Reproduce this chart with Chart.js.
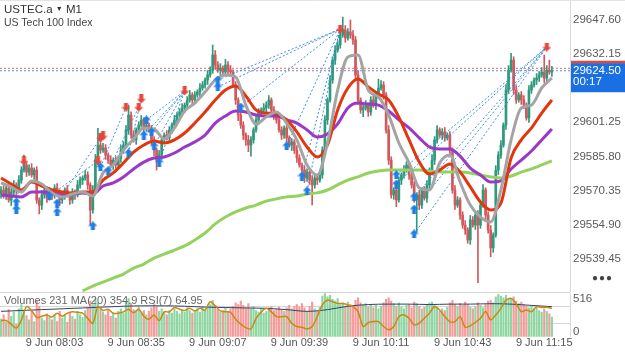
<!DOCTYPE html>
<html>
<head>
<meta charset="utf-8">
<script src="https://cdn.jsdelivr.net/npm/chart.js@4.4.0/dist/chart.umd.min.js"></script>
<style>
  html, body { margin: 0; padding: 0; background: #fff; }
  body { width: 625px; height: 352px; position: relative; overflow: hidden; font-family: "Liberation Sans", Arial, sans-serif; }
  #main { position: absolute; left: 0; top: 0; }
  #sub { position: absolute; left: 0; top: 292px; }
  .txt { position: absolute; left: 4px; white-space: nowrap; line-height: 1; }
</style>
</head>
<body>
<canvas id="main" width="625" height="292"></canvas>
<canvas id="sub" width="625" height="58"></canvas>
<div class="txt" style="top:4px;font-size:11.5px;color:#333">USTEC.a <span style="font-size:7px;vertical-align:2px">&#9660;</span> M1</div>
<div class="txt" style="top:17px;font-size:10.5px;color:#444">US Tech 100 Index</div>
<div class="txt" style="top:295px;font-size:11px;color:#666">Volumes 231 MA(20) 354.9 RSI(7) 64.95</div>
<div class="txt" style="left:592px;top:273px;font-size:10px;color:#444;letter-spacing:1px">&#9679;&#9679;&#9679;</div>
<script>
// one-minute bars, 9 Jun 07:42 .. 11:18
const firstOpen = 29569.0;
const closes = [
  29570.7, 29568.5, 29571.6, 29566.2, 29569.8, 29573.0, 29570.7, 29575.2, 29579.7, 29582.0,
  29578.8, 29580.6, 29577.5, 29579.7, 29566.2, 29563.9, 29568.5, 29570.7, 29567.1, 29569.8,
  29568.5, 29571.6, 29569.8, 29566.2, 29568.5, 29570.7, 29568.5, 29566.2, 29569.8, 29568.5,
  29573.0, 29575.2, 29576.1, 29577.5, 29573.0, 29561.7, 29570.7, 29584.2, 29591.0, 29588.7,
  29589.7, 29586.5, 29584.2, 29582.0, 29584.2, 29582.0, 29585.1, 29588.7, 29591.0, 29597.8,
  29604.5, 29595.5, 29593.3, 29597.8, 29600.0, 29602.3, 29598.7, 29600.0, 29597.8, 29593.3,
  29588.7, 29584.2, 29586.5, 29593.3, 29595.5, 29594.2, 29597.8, 29600.0, 29602.3, 29604.5,
  29605.9, 29607.7, 29609.0, 29611.3, 29613.6, 29611.3, 29613.6, 29614.9, 29616.7, 29618.1,
  29620.3, 29622.6, 29624.8, 29631.6, 29627.1, 29624.8, 29625.7, 29623.9, 29627.1, 29624.8,
  29623.9, 29618.1, 29611.3, 29604.5, 29600.0, 29595.5, 29593.3, 29591.0, 29593.3, 29597.8,
  29602.3, 29605.9, 29606.8, 29607.7, 29609.0, 29611.3, 29606.8, 29604.5, 29602.3, 29597.8,
  29595.5, 29598.7, 29594.2, 29591.0, 29592.4, 29588.7, 29585.1, 29582.0, 29579.7, 29576.1,
  29578.8, 29575.2, 29573.0, 29576.1, 29575.2, 29577.5, 29588.7, 29602.3, 29611.3, 29620.3,
  29629.3, 29633.8, 29636.1, 29640.6, 29642.9, 29639.3, 29642.0, 29640.6, 29638.4, 29622.6,
  29611.3, 29606.8, 29607.7, 29609.0, 29605.9, 29611.3, 29609.0, 29613.6, 29616.7, 29618.1,
  29613.6, 29597.8, 29584.2, 29568.5, 29570.7, 29566.2, 29575.2, 29577.5, 29579.7, 29582.0,
  29577.5, 29573.0, 29566.2, 29568.5, 29563.9, 29570.7, 29567.1, 29573.0, 29579.7, 29584.2,
  29593.3, 29597.8, 29595.5, 29596.9, 29594.2, 29595.5, 29588.7, 29570.7, 29563.9, 29566.2,
  29559.4, 29554.9, 29552.7, 29548.2, 29557.2, 29554.9, 29559.4, 29554.9, 29563.9, 29570.7,
  29559.4, 29552.7, 29544.6, 29550.4, 29579.7, 29586.5, 29591.0, 29600.0, 29615.8, 29624.8,
  29629.3, 29615.8, 29611.3, 29613.6, 29611.3, 29609.0, 29603.2, 29615.8, 29618.1, 29620.3,
  29621.2, 29622.6, 29623.9, 29621.2, 29624.8, 29623.9, 29624.5
];
// wick length above / below the body, in index points
const upperWick = [
  1.5, 2, 1, 2.5, 1.5, 2, 1, 2, 1.5, 4.5, 1, 1.5, 2, 1, 1.5, 1, 2, 1, 1.5, 2,
  1, 1.5, 2, 1, 1.5, 1, 2, 1, 1.5, 1, 2, 1.5, 1, 2, 1.5, 1, 2, 2.5, 7.5, 1.5,
  2, 1.5, 1, 2, 1, 1.5, 1, 2, 1.5, 2, 4.5, 1.5, 2, 1, 1.5, 2, 1, 1.5, 1, 2,
  1.5, 1, 2, 1.5, 1, 2, 1.5, 1, 2, 1, 1.5, 2, 1, 1.5, 2, 1, 1.5, 1, 2, 1.5,
  1, 2, 1.5, 4.5, 2, 1.5, 2, 1, 2.5, 1.5, 2, 1, 1.5, 1, 2, 1.5, 1, 2, 1.5, 1,
  2, 1.5, 1, 2, 1.5, 2, 1, 1.5, 1, 2, 1.5, 1, 2, 1, 1.5, 1, 2, 1.5, 1, 2,
  1.5, 1, 2, 1.5, 1, 2, 1.5, 2, 1, 2, 1.5, 2, 1.5, 2.5, 5.8, 2, 1.5, 5.4, 2, 1.5,
  2, 1, 1.5, 2, 1, 1.5, 2, 1.5, 4, 2, 1.5, 1, 2, 1.5, 1, 2, 1.5, 1, 2, 1.5,
  1, 2, 1.5, 1, 2, 1, 1.5, 2, 1, 2.5, 1.5, 2, 1, 1.5, 2, 1, 1.5, 1, 2, 1.5,
  1, 1.5, 2, 1, 2, 1.5, 1, 2, 1.5, 2.5, 1, 1.5, 2, 1, 2, 1.5, 2, 1, 2.5, 2,
  3, 1.5, 2, 1, 1.5, 2, 1, 2, 1.5, 1, 2, 1.5, 2, 7.7, 2, 4.5, 2
];
const lowerWick = [
  2, 1.5, 2, 1, 2.5, 1.5, 2, 1, 1.5, 1, 2, 1.5, 1, 2, 1.5, 4, 2, 1.5, 2, 1,
  2, 1.5, 1, 2.5, 1.5, 2, 1, 2, 1.5, 2, 1, 1.5, 2, 1, 2, 6.8, 1.5, 1, 2, 1.5,
  1, 2, 1.5, 1, 2, 1.5, 1, 2, 1.5, 1, 2, 1.5, 1, 2, 1.5, 1, 2, 1.5, 1, 2,
  2.5, 4.5, 1, 2, 1.5, 1, 2, 1.5, 1, 2, 1.5, 1, 2, 1.5, 1, 2, 1.5, 1, 2, 1,
  1.5, 2, 1, 1.5, 2, 1, 2, 1.5, 1, 2, 1.5, 1, 2, 2.5, 1.5, 2, 2.5, 3, 5, 1.5,
  1, 2, 1.5, 1, 2, 1.5, 1, 2, 1.5, 1, 2, 1.5, 2, 1, 2.5, 1.5, 2, 1, 2.5, 2,
  1.5, 2, 9, 1.5, 2, 1, 1.5, 1, 2, 1, 1.5, 2, 1, 1.5, 1, 2, 1, 1.5, 2, 1.5,
  2, 1.5, 3, 1, 2, 1.5, 1, 2, 1.5, 1, 2, 1.5, 2, 1.5, 2, 3, 1, 2, 1.5, 1,
  2, 1.5, 1, 14.4, 2, 1.5, 1, 2, 1.5, 1, 2, 1.5, 1, 2, 1.5, 1, 2, 1.5, 2, 1,
  2, 1.5, 2, 1.5, 2, 1, 2, 26, 1.5, 1, 2, 1.5, 4, 2, 1, 2, 1.5, 1, 2, 1.5,
  1, 2, 1.5, 1, 2, 1.5, 1, 2, 1.5, 1, 2, 1.5, 1, 2, 1.5, 1, 2
];
const volumes = [
  210, 260, 180, 320, 240, 290, 150, 330, 380, 300, 250, 200, 310, 180, 420, 360, 220, 190, 270, 230,
  200, 260, 180, 300, 220, 250, 170, 280, 240, 210, 300, 260, 230, 310, 340, 420, 380, 450, 400, 330,
  290, 260, 310, 240, 280, 220, 300, 330, 280, 410, 450, 390, 320, 300, 350, 280, 310, 260, 300, 340,
  380, 350, 300, 330, 290, 260, 310, 280, 330, 300, 270, 320, 290, 340, 310, 280, 300, 330, 290, 350,
  310, 360, 380, 430, 370, 320, 290, 310, 340, 300, 330, 360, 400, 380, 420, 370, 340, 390, 330, 360,
  310, 290, 330, 280, 300, 340, 360, 310, 330, 350, 320, 300, 340, 370, 330, 360, 380, 350, 390, 340,
  300, 360, 410, 330, 300, 350, 480, 510, 470, 490, 440, 420, 450, 380, 400, 360, 410, 380, 350, 430,
  460, 400, 370, 390, 350, 380, 340, 370, 330, 360, 400, 440, 460, 420, 390, 360, 400, 350, 330, 370,
  380, 340, 410, 390, 360, 330, 350, 380, 400, 410, 370, 340, 300, 330, 310, 350, 400, 430, 380, 360,
  390, 370, 410, 380, 350, 330, 360, 400, 370, 340, 380, 420, 430, 400, 470, 500, 480, 460, 490, 440,
  450, 470, 420, 390, 410, 380, 360, 340, 370, 330, 350, 310, 290, 330, 300, 270, 231
];

// moving averages, read every 4th bar (green starts at bar 32)
const maStep = 4;
const grayMA = [
  29573.9, 29572.1, 29569.8, 29574.8, 29573.4, 29569.4, 29567.6, 29568.9, 29569.8, 29568.0,
  29578.4, 29582.0, 29588.7, 29593.7, 29598.7, 29598.2, 29593.7, 29598.7, 29606.3, 29609.9,
  29614.9, 29620.3, 29622.6, 29621.7, 29609.0, 29600.5, 29603.6, 29605.9, 29600.9, 29593.3,
  29582.0, 29577.5, 29591.9, 29615.8, 29630.7, 29631.6, 29615.8, 29612.7, 29604.5, 29591.9,
  29582.9, 29571.6, 29570.7, 29582.9, 29586.5, 29574.3, 29563.9, 29558.5, 29556.3, 29570.7,
  29593.3, 29607.7, 29609.0, 29616.7, 29621.2
];
const redMA = [
  29576.1, 29573.4, 29570.7, 29574.3, 29572.5, 29570.7, 29569.8, 29569.4, 29569.8, 29569.8,
  29575.2, 29578.4, 29582.9, 29587.8, 29591.0, 29592.8, 29591.9, 29593.3, 29596.4, 29600.9,
  29605.9, 29611.3, 29615.8, 29617.6, 29613.1, 29606.8, 29605.4, 29605.0, 29602.3, 29596.9,
  29590.1, 29585.6, 29591.0, 29606.8, 29616.7, 29620.8, 29617.2, 29614.0, 29611.3, 29603.6,
  29593.3, 29583.3, 29577.9, 29579.7, 29582.4, 29578.8, 29572.1, 29565.3, 29561.7, 29564.8,
  29585.1, 29593.3, 29598.7, 29605.4, 29611.3
];
const purpleMA = [
  29568.5, 29568.0, 29567.6, 29569.8, 29569.8, 29569.4, 29568.5, 29568.9, 29569.4, 29568.9,
  29572.5, 29573.9, 29576.6, 29580.2, 29583.3, 29585.1, 29585.6, 29587.4, 29590.1, 29592.4,
  29595.5, 29600.9, 29604.1, 29606.3, 29605.9, 29604.5, 29604.1, 29604.1, 29602.3, 29600.9,
  29597.8, 29594.6, 29596.0, 29600.5, 29607.7, 29609.9, 29609.5, 29609.0, 29606.3, 29602.3,
  29598.7, 29594.2, 29590.1, 29589.2, 29589.2, 29586.0, 29580.6, 29577.5, 29574.3, 29574.8,
  29580.2, 29584.2, 29588.3, 29593.3, 29598.2
];
const greenStart = 32;
const greenMA = [
  29525.2, 29527.4, 29529.2, 29531.0, 29532.8, 29535.5, 29537.3, 29540.0, 29541.8, 29543.6,
  29545.5, 29548.2, 29551.3, 29555.4, 29558.5, 29560.8, 29562.6, 29563.9, 29565.7, 29566.7,
  29567.6, 29568.0, 29568.9, 29569.4, 29570.7, 29573.0, 29575.2, 29576.6, 29578.4, 29579.3,
  29579.7, 29579.7, 29579.7, 29579.7, 29579.3, 29578.8, 29578.8, 29578.8, 29578.4, 29577.5,
  29576.6, 29576.1, 29577.0, 29578.8, 29580.2, 29582.0, 29583.8
];
// volume MA(20) every 8th bar, RSI(7) every 2nd bar
const volMAStep = 8;
const volumeMA = [300, 310, 320, 330, 340, 350, 360, 365, 365, 360, 350, 345, 340, 335,
                  320, 300, 320, 360, 380, 385, 385, 380, 385, 385, 390, 385, 370, 355];
const rsiStep = 2;
const rsi = [
  37, 37.5, 28.5, 20, 38, 69, 60, 44, 47, 50,
  45, 54, 47, 54, 57, 56, 54, 42, 31, 69,
  60, 63, 54, 54, 57, 63, 55, 63, 47, 40,
  50, 37, 57, 57, 67, 63, 60, 65, 59, 65,
  61, 80, 71, 59, 57, 56, 40, 29, 21, 18,
  42, 56, 65, 57, 46, 46, 46, 31, 23.5, 22,
  18, 23.5, 46, 72.7, 84, 80, 76, 76, 72.7, 69,
  57.5, 23.5, 32.5, 34.8, 34.8, 23.5, 16, 23.5, 46, 50,
  42.4, 27, 31, 42.4, 54, 69, 61, 46, 34.8, 34.8,
  46, 22, 25, 33, 42.4, 57.5, 38.6, 50, 65, 84,
  87.8, 75, 57.5, 61, 57.5, 69, 67, 67.5, 64.95
];

const priceTicks = [29539.45, 29554.90, 29570.35, 29585.80, 29601.25, 29616.70, 29632.15, 29647.60];
const timeTickBars = [21, 53, 85, 117, 149, 181, 213];
const timeTickLabels = ['9 Jun 08:03', '9 Jun 08:35', '9 Jun 09:07', '9 Jun 09:39', '9 Jun 10:11', '9 Jun 10:43', '9 Jun 11:15'];
const volumeTicks = [0, 516];
const rsiLevels = [30, 70];
const bid = 29624.50, ask = 29625.60;
const timer = '00:17';

// [bar, price]
const buySignals = [
  [6, 29565.3], [6, 29562.1], [19, 29568.0], [22, 29564.8], [22, 29560.8], [36, 29554.5],
  [39, 29581.1], [42, 29579.3], [50, 29587.4], [56, 29595.5], [57, 29602.3], [59, 29596.9],
  [60, 29590.6], [62, 29583.3], [85, 29620.3], [85, 29617.2], [94, 29608.1], [112, 29590.6],
  [118, 29577.0], [120, 29570.3], [155, 29577.5], [155, 29573.4], [162, 29567.6], [162, 29562.1],
  [162, 29550.9]
];
const sellSignals = [
  [9, 29583.8], [38, 29583.8], [39, 29594.2], [40, 29595.1], [49, 29608.1], [54, 29608.1],
  [55, 29611.8], [72, 29615.4], [133, 29643.3], [214, 29635.2]
];
// [buy bar, buy price, sell bar, sell price]
const trades = [
  [6, 29565.3, 9, 29583.8], [19, 29568.0, 38, 29583.8], [22, 29564.8, 39, 29594.2],
  [39, 29581.1, 49, 29608.1], [42, 29579.3, 54, 29608.1], [50, 29587.4, 55, 29611.8],
  [56, 29595.5, 72, 29615.4], [57, 29602.3, 72, 29615.4], [59, 29596.9, 72, 29615.4],
  [60, 29590.6, 72, 29615.4], [62, 29583.3, 72, 29615.4],
  [85, 29620.3, 133, 29643.3], [85, 29617.2, 133, 29643.3], [94, 29608.1, 133, 29643.3],
  [112, 29590.6, 133, 29643.3], [118, 29577.0, 133, 29643.3], [120, 29570.3, 133, 29643.3],
  [155, 29577.5, 214, 29635.2], [155, 29573.4, 214, 29635.2], [162, 29567.6, 214, 29635.2],
  [162, 29562.1, 214, 29635.2], [162, 29550.9, 214, 29635.2]
];

const UP = '#2e9a7b', DOWN = '#d2585c';
const VOL_UP = '#8fd6a2', VOL_DOWN = '#f39c9a';
const FONT = '"Liberation Sans", Arial, sans-serif';
const xMin = -0.4, xMax = 223.1;

const opens = closes.map((c, i) => i === 0 ? firstOpen : closes[i - 1]);
const highs = closes.map((c, i) => Math.max(opens[i], c) + (upperWick[i] || 1));
const lows = closes.map((c, i) => Math.min(opens[i], c) - (lowerWick[i] || 1));
const rising = closes.map((c, i) => c >= opens[i]);

function sampled(values, step, start) {
  return values.map((v, k) => ({ x: (start || 0) + k * step, y: v }));
}

function arrow(color, up) {
  const c = document.createElement('canvas');
  c.width = 9; c.height = 9;
  const g = c.getContext('2d');
  g.fillStyle = color;
  g.beginPath();
  if (up) {
    g.moveTo(4.5, 0); g.lineTo(9, 4.5); g.lineTo(6.5, 4.5); g.lineTo(6.5, 9);
    g.lineTo(2.5, 9); g.lineTo(2.5, 4.5); g.lineTo(0, 4.5);
  } else {
    g.moveTo(4.5, 9); g.lineTo(9, 4.5); g.lineTo(6.5, 4.5); g.lineTo(6.5, 0);
    g.lineTo(2.5, 0); g.lineTo(2.5, 4.5); g.lineTo(0, 4.5);
  }
  g.closePath();
  g.fill();
  return c;
}
const upArrow = arrow('#1c7ee6', true);
const downArrow = arrow('#e6473b', false);

function maLine(data, color, order) {
  return {
    type: 'line', data, borderColor: color, borderWidth: 3, pointRadius: 0,
    cubicInterpolationMode: 'monotone', order
  };
}

const tradeSets = trades.map(t => ({
  type: 'line',
  data: [{ x: t[0], y: t[1] }, { x: t[2], y: t[3] }],
  borderColor: '#3d8ee6', borderWidth: 1, borderDash: [2, 2], pointRadius: 0, order: 6
}));

// bid tag on the price axis, with the hidden ask tag just above it
const priceTag = {
  id: 'priceTag',
  afterDraw(chart) {
    const { ctx, chartArea, scales } = chart;
    const yb = scales.y.getPixelForValue(bid);
    const left = chartArea.right + 1;
    const w = chart.width - left;
    ctx.save();
    ctx.strokeStyle = '#e4e4e4';
    ctx.lineWidth = 1;
    ctx.beginPath();
    ctx.moveTo(0, 0.5); ctx.lineTo(chart.width, 0.5);
    ctx.stroke();
    ctx.fillStyle = '#e5463c';
    ctx.fillRect(left, yb - 10, w, 3);
    ctx.fillStyle = '#1a6fe3';
    ctx.fillRect(left, yb - 7.5, w, 29);
    ctx.fillStyle = '#fff';
    ctx.font = '11.5px ' + FONT;
    ctx.textBaseline = 'middle';
    ctx.fillText(bid.toFixed(2), left + 2, yb);
    ctx.fillText(timer, left + 2, yb + 11);
    ctx.restore();
  }
};

new Chart(document.getElementById('main'), {
  type: 'bar',
  data: {
    datasets: [
      {
        type: 'line', data: buySignals.map(s => ({ x: s[0], y: s[1] })),
        showLine: false, pointStyle: upArrow, pointRadius: 4, order: 0
      },
      {
        type: 'line', data: sellSignals.map(s => ({ x: s[0], y: s[1] })),
        showLine: false, pointStyle: downArrow, pointRadius: 4, order: 0
      },
      maLine(sampled(grayMA, maStep), '#a4a4a4', 2),
      maLine(sampled(redMA, maStep), '#e1360f', 3),
      maLine(sampled(purpleMA, maStep), '#9b38c6', 4),
      maLine(sampled(greenMA, maStep, greenStart), '#93d25c', 5),
      ...tradeSets,
      {
        data: closes.map((c, i) => ({ x: i, y: [opens[i], c] })),
        backgroundColor: ctx => rising[ctx.dataIndex] ? UP : DOWN,
        barThickness: 2, minBarLength: 1, grouped: false, order: 7
      },
      {
        data: closes.map((c, i) => ({ x: i, y: [lows[i], highs[i]] })),
        backgroundColor: ctx => rising[ctx.dataIndex] ? UP : DOWN,
        barThickness: 1, grouped: false, order: 8
      },
      {
        type: 'line', data: [{ x: xMin, y: ask }, { x: xMax, y: ask }],
        borderColor: '#e8675d', borderWidth: 1, borderDash: [2, 2], pointRadius: 0, order: 9
      },
      {
        type: 'line', data: [{ x: xMin, y: bid }, { x: xMax, y: bid }],
        borderColor: '#5b8ee8', borderWidth: 1, borderDash: [2, 2], pointRadius: 0, order: 9
      }
    ]
  },
  options: {
    responsive: false,
    animation: false,
    devicePixelRatio: 1,
    layout: { padding: 0, autoPadding: false },
    plugins: { legend: { display: false }, tooltip: { enabled: false } },
    scales: {
      x: { type: 'linear', min: xMin, max: xMax, offset: false, display: false },
      y: {
        position: 'right', min: 29524.7, max: 29656.4,
        afterBuildTicks: s => { s.ticks = priceTicks.map(v => ({ value: v })); },
        afterFit: s => { s.width = 55; s.paddingTop = 0; s.paddingBottom = 0; },
        grid: { display: false, drawTicks: false },
        border: { display: true, color: '#dadada' },
        ticks: { padding: 3, color: '#5a5a5a', font: { size: 11.5, family: FONT }, callback: v => v.toFixed(2) }
      }
    }
  },
  plugins: [priceTag]
});

const panelTop = {
  id: 'panelTop',
  afterDraw(chart) {
    const { ctx, chartArea } = chart;
    ctx.save();
    ctx.strokeStyle = '#d4d4d4';
    ctx.lineWidth = 1;
    ctx.beginPath();
    ctx.moveTo(0, 0.5); ctx.lineTo(chartArea.right, 0.5);
    ctx.stroke();
    ctx.restore();
  }
};

new Chart(document.getElementById('sub'), {
  type: 'bar',
  data: {
    datasets: [
      {
        type: 'line', data: sampled(rsi, rsiStep), yAxisID: 'yr',
        borderColor: '#c98912', borderWidth: 1.5, pointRadius: 0, tension: 0.3, order: 0
      },
      {
        type: 'line', data: sampled(volumeMA, volMAStep), yAxisID: 'yv',
        borderColor: '#34406b', borderWidth: 1, pointRadius: 0, cubicInterpolationMode: 'monotone', order: 1
      },
      {
        data: volumes.map((v, i) => ({ x: i, y: v })), yAxisID: 'yv',
        backgroundColor: ctx => rising[ctx.dataIndex] ? VOL_UP : VOL_DOWN,
        barThickness: 1.5, grouped: false, order: 2
      }
    ]
  },
  options: {
    responsive: false,
    animation: false,
    devicePixelRatio: 1,
    layout: { padding: { top: 1 }, autoPadding: false },
    plugins: { legend: { display: false }, tooltip: { enabled: false } },
    scales: {
      x: {
        type: 'linear', min: xMin, max: xMax, offset: false, position: 'bottom',
        afterBuildTicks: s => { s.ticks = timeTickBars.map(v => ({ value: v })); },
        afterFit: s => { s.paddingLeft = 0; s.paddingRight = 0; },
        grid: { display: false, drawTicks: false },
        border: { display: false },
        ticks: {
          padding: 0, autoSkip: false, maxRotation: 0, color: '#555',
          font: { size: 11, family: FONT },
          callback: (v, i) => timeTickLabels[i]
        }
      },
      yv: { display: false, min: 0, max: 516 },
      yr: {
        position: 'right', min: 0, max: 100,
        afterBuildTicks: s => { s.ticks = rsiLevels.map(v => ({ value: v })); },
        afterFit: s => { s.width = 0; },
        grid: { color: '#d6d6d6', drawTicks: false },
        border: { display: false },
        ticks: { display: false }
      },
      yl: {
        position: 'right', min: -74, max: 604,
        afterBuildTicks: s => { s.ticks = volumeTicks.map(v => ({ value: v })); },
        afterFit: s => { s.width = 55; s.paddingTop = 0; s.paddingBottom = 0; },
        grid: { display: false, drawTicks: false },
        border: { display: true, color: '#dadada' },
        ticks: { padding: 3, color: '#5a5a5a', font: { size: 11.5, family: FONT } }
      }
    }
  },
  plugins: [panelTop]
});
</script>
</body>
</html>
